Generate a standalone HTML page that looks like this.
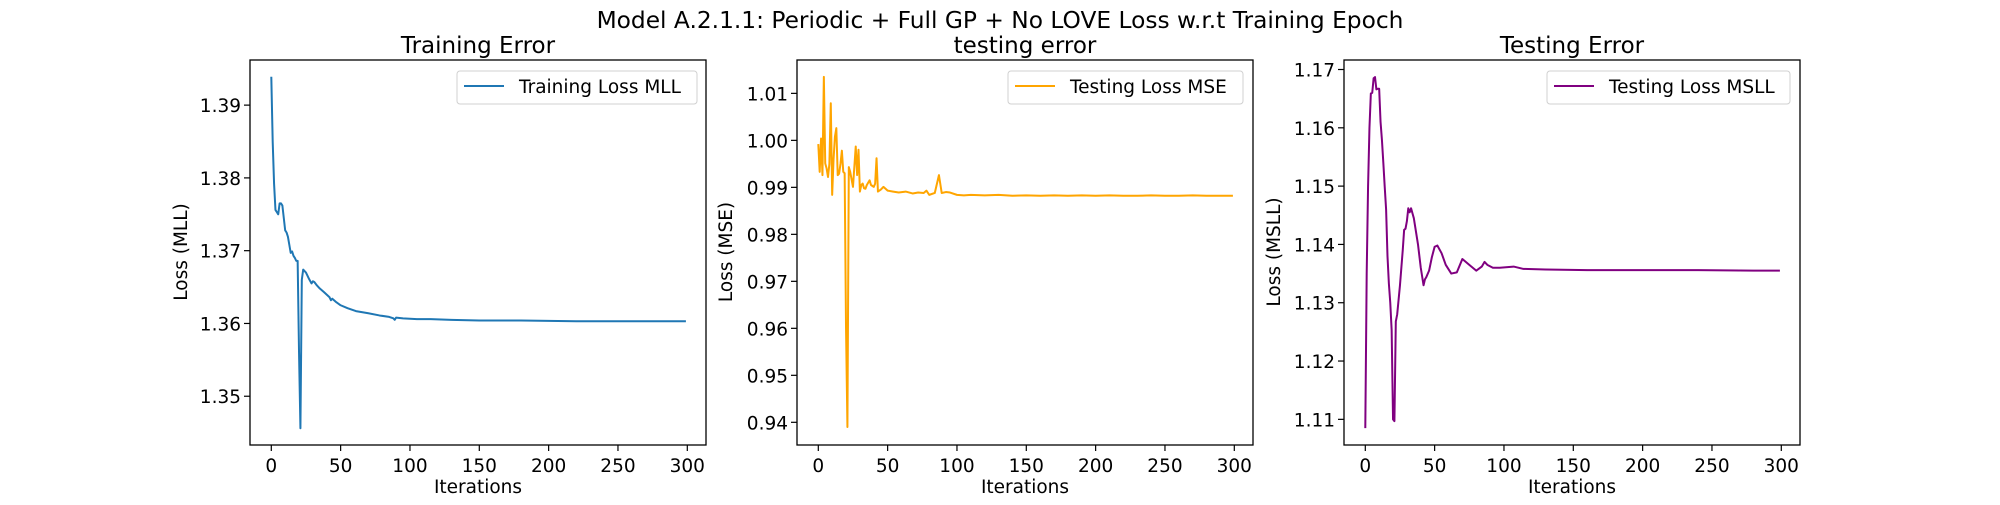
<!DOCTYPE html>
<html><head><meta charset="utf-8"><style>
body{margin:0;background:#fff;}
svg text{font-family:"DejaVu Sans","Liberation Sans",sans-serif;fill:#000;}
</style></head><body>
<svg id="fig" width="2000" height="500" viewBox="0 0 2000 500" xmlns="http://www.w3.org/2000/svg">
<rect width="2000" height="500" fill="#fff"/>
<text x="1000" y="28" font-size="23.3" text-anchor="middle">Model A.2.1.1: Periodic + Full GP + No LOVE Loss w.r.t Training Epoch</text>
</svg>
<script>
// Panel 1: training loss MLL
const trainIter = [0,1,2,3,4,5,6,7,8,9,10,11,12,13,14,15,16,17,18,19,20,21,22,23,25,27,29,30,31,33,35,38,42,43,44,47,50,55,61,70,78,85,88,89,90,95,105,115,130,150,180,220,260,299];
const trainLoss = [1.3939,1.3850,1.3792,1.3756,1.3753,1.3750,1.3765,1.3765,1.3762,1.3745,1.3728,1.3725,1.3719,1.3708,1.3697,1.3699,1.3693,1.3690,1.3686,1.3686,1.3560,1.3456,1.3660,1.3674,1.3670,1.3662,1.3655,1.3658,1.3657,1.3652,1.3648,1.3643,1.3636,1.3632,1.3634,1.3629,1.3625,1.3621,1.3617,1.3614,1.3611,1.3609,1.3607,1.3605,1.3608,1.3607,1.3606,1.3606,1.3605,1.3604,1.3604,1.3603,1.3603,1.3603];
const trainTicksY = [1.35,1.36,1.37,1.38,1.39];
// Panel 2: testing loss MSE
const mseIter = [0,1,2,3,4,5,6,7,8,9,10,11,12,13,14,15,16,17,18,19,20,21,22,23,25,27,28,29,30,31,32,33,34,35,37,38,40,41,42,43,45,47,50,54,58,63,68,72,76,78,80,84,87,89,92,95,100,105,110,120,130,140,150,160,170,180,190,200,210,220,230,240,250,260,270,280,290,299];
const mseLoss = [0.9992,0.9933,1.0004,0.9926,1.0135,0.9951,0.9940,0.9922,0.9950,1.0079,0.9884,0.9960,1.0008,1.0026,0.9926,0.9929,0.9950,0.9978,0.9933,0.9930,0.9600,0.9390,0.9943,0.9933,0.9901,0.9987,0.9926,0.9980,0.9891,0.9905,0.9908,0.9898,0.9897,0.9905,0.9915,0.9905,0.9901,0.9908,0.9962,0.9891,0.9895,0.9901,0.9893,0.9891,0.9889,0.9891,0.9887,0.9889,0.9888,0.9893,0.9884,0.9888,0.9926,0.9888,0.9890,0.9889,0.9884,0.9883,0.9884,0.9883,0.9884,0.9882,0.9883,0.9882,0.9883,0.9882,0.9883,0.9882,0.9883,0.9882,0.9882,0.9883,0.9882,0.9882,0.9883,0.9882,0.9882,0.9882];
const mseTicksY = [0.94,0.95,0.96,0.97,0.98,0.99,1.00,1.01];
// Panel 3: testing loss MSLL
const msllIter = [0,1,2,3,4,5,6,7,8,9,10,11,12,13,14,15,16,17,18,19,20,21,22,23,25,27,28,29,30,31,32,33,35,38,40,42,43,44,46,48,50,52,55,58,62,66,70,75,80,84,86,88,92,97,107,114,130,160,200,240,280,299];
const msllLoss = [1.1085,1.1350,1.1500,1.1600,1.1659,1.1660,1.1685,1.1687,1.1666,1.1667,1.1667,1.1610,1.1579,1.1540,1.1499,1.1460,1.1380,1.1333,1.1300,1.1253,1.1100,1.1097,1.1268,1.1280,1.1330,1.1390,1.1425,1.1427,1.1440,1.1462,1.1455,1.1462,1.1445,1.1400,1.1360,1.1330,1.1340,1.1344,1.1355,1.1378,1.1396,1.1398,1.1385,1.1365,1.1350,1.1352,1.1375,1.1365,1.1355,1.1362,1.1370,1.1365,1.1360,1.1360,1.1362,1.1358,1.1357,1.1356,1.1356,1.1356,1.1355,1.1355];
const msllTicksY = [1.11,1.12,1.13,1.14,1.15,1.16,1.17];
const xTicks = [0,50,100,150,200,250,300];

const NS = "http://www.w3.org/2000/svg";
const svgRoot = document.getElementById("fig");
function mk(tag, attrs, parent){const e=document.createElementNS(NS,tag);for(const k in attrs)e.setAttribute(k,attrs[k]);(parent||svgRoot).appendChild(e);return e;}

const panels = [
 {key:"training",left:250,right:706,ymin:1.34330,ymax:1.39620,x:trainIter,y:trainLoss,yt:trainTicksY,dec:2,color:"#1f77b4",title:"Training Error",ylabel:"Loss (MLL)",legend:"Training Loss MLL",lx:457,lw:240,ylx:182},
 {key:"mse",left:797,right:1253,ymin:0.93517,ymax:1.01710,x:mseIter,y:mseLoss,yt:mseTicksY,dec:2,color:"#ffa500",title:"testing error",ylabel:"Loss (MSE)",legend:"Testing Loss MSE",lx:1008,lw:235,ylx:727},
 {key:"msll",left:1344,right:1800,ymin:1.10560,ymax:1.17163,x:msllIter,y:msllLoss,yt:msllTicksY,dec:2,color:"#800080",title:"Testing Error",ylabel:"Loss (MSLL)",legend:"Testing Loss MSLL",lx:1547,lw:243,ylx:1275}
];
const axTop=60, axBottom=445;
panels.forEach(p=>{
  const x0=p.left+21.3, pxPer=416/300;
  const sx=v=>x0+v*pxPer;
  const sy=v=>axBottom-(v-p.ymin)/(p.ymax-p.ymin)*(axBottom-axTop);
  const g=mk("g",{});
  
  
  const t=mk("text",{x:(p.left+p.right)/2,y:53,"font-size":"23","text-anchor":"middle"},g);
  t.textContent=p.title;
  
  
  const d=p.x.map((v,i)=>(i?"L":"M")+sx(v).toFixed(2)+","+sy(p.y[i]).toFixed(2)).join(" ");
  const line=mk("path",{d:d,fill:"none",stroke:p.color,"stroke-width":"2","stroke-linejoin":"round"},g);
  
  
  const fr=mk("rect",{x:p.left,y:axTop,width:p.right-p.left,height:axBottom-axTop,fill:"none",stroke:"#000","stroke-width":"1.3"},g);
  
  
  xTicks.forEach(v=>{
    mk("line",{x1:sx(v),x2:sx(v),y1:axBottom,y2:axBottom+6,stroke:"#000","stroke-width":"1.2"},g);
    const tl=mk("text",{x:sx(v),y:axBottom+27,"font-size":"18.5","text-anchor":"middle"},g);
    tl.textContent=v;
    
    
  });
  const xl=mk("text",{x:(p.left+p.right)/2,y:493,"font-size":"18.5","text-anchor":"middle"},g);
  xl.textContent="Iterations";
  
  
  p.yt.forEach(v=>{
    const yy=sy(v);
    mk("line",{x1:p.left-6,x2:p.left,y1:yy,y2:yy,stroke:"#000","stroke-width":"1.2"},g);
    const tl=mk("text",{x:p.left-9,y:yy+7,"font-size":"18.5","text-anchor":"end"},g);
    tl.textContent=v.toFixed(p.dec);
    
    
  });
  const yl=mk("text",{x:p.ylx,y:252,"font-size":"18.5","text-anchor":"middle",transform:"rotate(-90 "+p.ylx+" 252)","dominant-baseline":"middle"},g);
  yl.textContent=p.ylabel;
  
  
  const lg=mk("g",{},g);
  
  
  mk("rect",{x:p.lx,y:71,width:p.lw,height:33,rx:3,fill:"#fff","fill-opacity":"0.8",stroke:"#d0d0d0","stroke-width":"1"},lg);
  mk("line",{x1:p.lx+7,x2:p.lx+47,y1:86,y2:86,stroke:p.color,"stroke-width":"2"},lg);
  const lt=mk("text",{x:p.lx+62,y:93,"font-size":"18.5"},lg);
  lt.textContent=p.legend;
  
  
});
</script>
</body></html>
